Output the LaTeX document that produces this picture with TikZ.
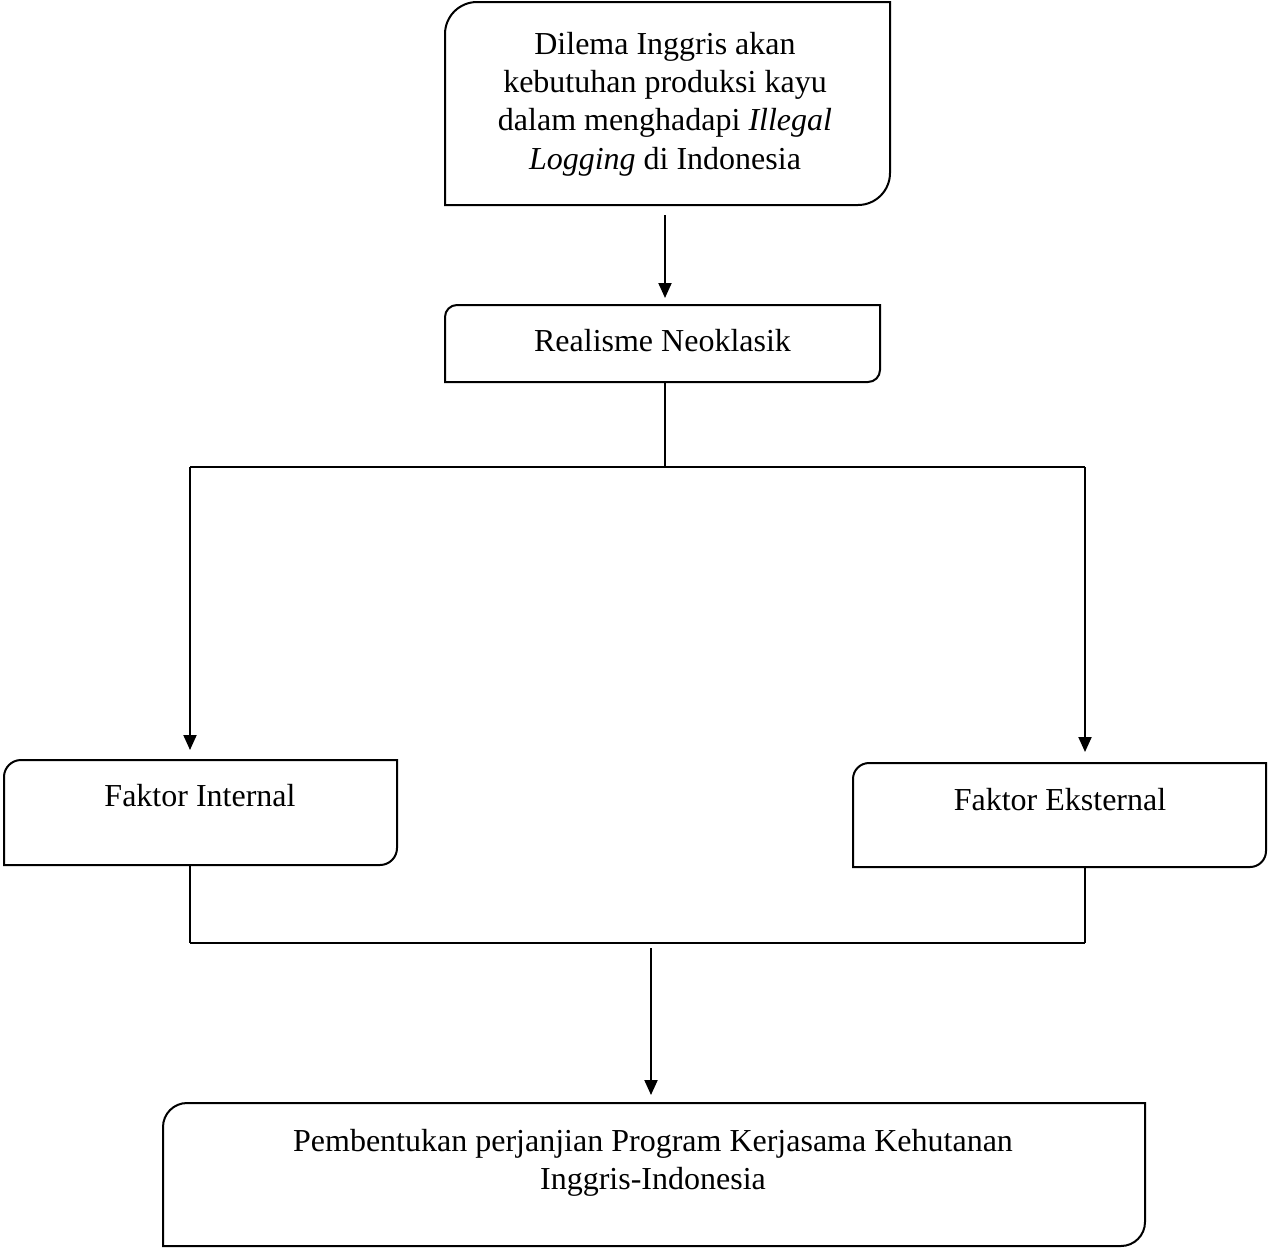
\documentclass[tikz,border=0pt]{standalone}
\usepackage{fontspec}
\setmainfont{Liberation Serif}
\usetikzlibrary{arrows.meta}
\newcommand\diagframe[2]{%
  \draw[ln] ([yshift=-#2]#1.north west) -- (#1.south west) -- ([xshift=-#2]#1.south east)
    .. controls ([xshift=-0.448*#2]#1.south east) and ([yshift=0.448*#2]#1.south east) .. ([yshift=#2]#1.south east)
    -- (#1.north east) -- ([xshift=#2]#1.north west)
    .. controls ([xshift=0.448*#2]#1.north west) and ([yshift=-0.448*#2]#1.north west) .. ([yshift=-#2]#1.north west) -- cycle;}
\begin{document}
\begin{tikzpicture}[x=0.5pt,y=-0.5pt,
  boxshape/.style={rectangle, draw=none, inner sep=0pt, outer sep=0pt},
  txt/.style={align=center, font=\fontsize{16}{19.2}\selectfont, inner sep=0pt, anchor=north},
  ln/.style={line width=1pt},
  hln/.style={line width=1.3pt},
  arr/.style={line width=1pt, -{Triangle[length=7.5pt,width=6.5pt]}}]
\useasboundingbox (0,0) rectangle (1268,1249);

% boxes
\node[boxshape, minimum width=222.5pt, minimum height=101.5pt] (b1) at (667.5,103.5) {};
\node[boxshape, minimum width=217.5pt, minimum height=38.5pt] (b2) at (662.5,343.5) {};
\node[boxshape, minimum width=196.5pt, minimum height=52.5pt] (b3) at (200.5,812.5) {};
\node[boxshape, minimum width=206.5pt, minimum height=52pt] (b4) at (1059.5,815) {};
\node[boxshape, minimum width=491pt, minimum height=71.5pt] (b5) at (654,1174.5) {};

\diagframe{b1}{16pt}
\diagframe{b2}{6pt}
\diagframe{b3}{8.5pt}
\diagframe{b4}{8pt}
\diagframe{b5}{12pt}

% texts
\node[txt] (t1) at (665,31.5) {Dilema Inggris akan\\kebutuhan produksi kayu\\dalam menghadapi \textit{Illegal}\\\textit{Logging} di Indonesia};
\node[txt] (t2) at (662.5,328.5) {Realisme Neoklasik};
\node[txt] (t3) at (200,783.5) {Faktor Internal};
\node[txt] (t4) at (1060,787.5) {Faktor Eksternal};
\node[txt] (t5) at (653,1128.5) {Pembentukan perjanjian Program Kerjasama Kehutanan\\Inggris-Indonesia};

% junctions
\coordinate (jt) at (665,467);
\coordinate (jl) at (190,467);
\coordinate (jr) at (1085,467);
\coordinate (jbl) at (190,943);
\coordinate (jbr) at (1085,943);
\coordinate (jb) at (651,948);

% connectors
\draw[arr, shorten >=3.5pt] ([xshift=-1.25pt,yshift=-5pt]b1.south) -- ([xshift=1.25pt]b2.north);
\draw[ln] ([xshift=1.25pt]b2.south) -- (jt);
\draw[hln] (jl) -- (jr);
\draw[arr, shorten >=5pt] (jl) -- (jl |- b3.north);
\draw[arr, shorten >=5.5pt] (jr) -- (jr |- b4.north);
\draw[ln] (b3.south -| jbl) -- (jbl);
\draw[ln] (b4.south -| jbr) -- (jbr);
\draw[hln] (jbl) -- (jbr);
\draw[arr, shorten >=4pt] (jb) -- (jb |- b5.north);
\end{tikzpicture}
\end{document}
